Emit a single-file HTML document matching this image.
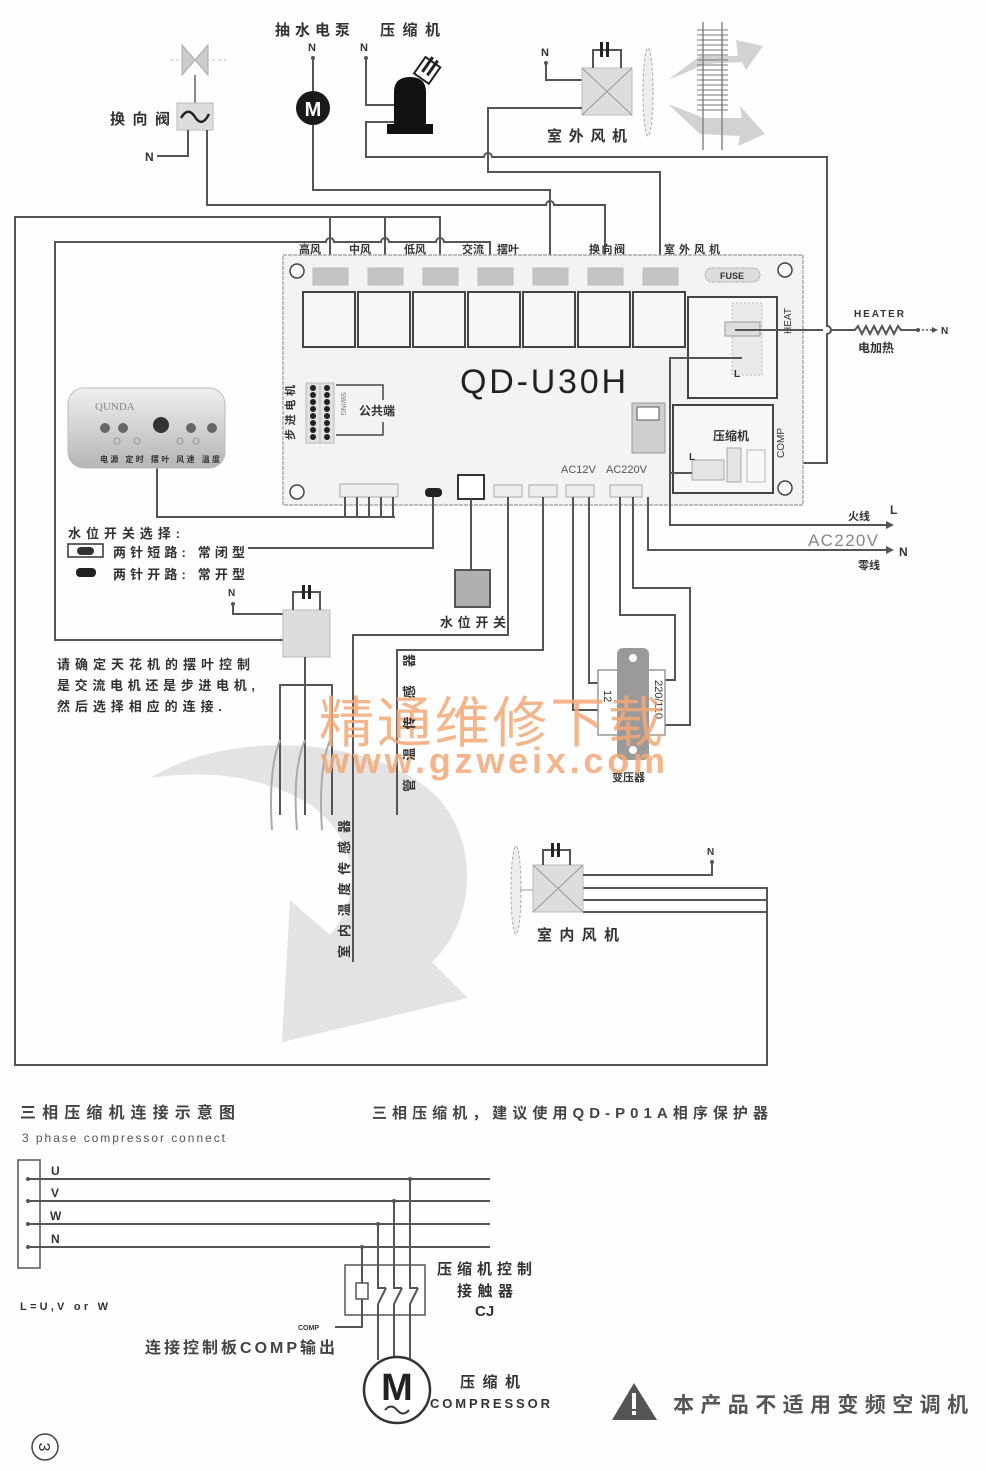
<!DOCTYPE html>
<html><head><meta charset="utf-8"><style>
html,body{margin:0;padding:0;background:#fff}
svg{display:block}
text{font-family:"Liberation Sans","Noto Sans CJK SC",sans-serif;fill:#333}
.w{fill:none;stroke:#555;stroke-width:2}
.t{stroke:#444;stroke-width:1}
</style></head><body>
<svg width="985" height="1471" viewBox="0 0 985 1471" xmlns="http://www.w3.org/2000/svg">
<rect width="985" height="1471" fill="#fefefe"/>

<!-- watermark swoosh -->
<path d="M150,778 C230,728 380,735 440,800 C482,850 472,925 432,962 L468,998 L282,1042 L290,900 L330,935 C362,898 360,842 312,806 C262,774 205,770 150,778 Z" fill="#e3e3e3"/>

<!-- ===== TOP COMPONENTS ===== -->
<!-- reversing valve -->
<line x1="170" y1="60" x2="226" y2="60" stroke="#bbb" stroke-width="1" stroke-dasharray="3,3"/>
<polygon points="182,45 195,60 182,75" fill="#ccc" stroke="#aaa"/>
<polygon points="208,45 195,60 208,75" fill="#ccc" stroke="#aaa"/>
<line x1="195" y1="75" x2="195" y2="103" stroke="#888" stroke-width="2"/>
<rect x="177" y="103" width="36" height="27" fill="#ddd" stroke="#bbb"/>
<path d="M181,118 Q188,106 195,117 Q202,128 209,114" fill="none" stroke="#222" stroke-width="2.5"/>
<text x="110" y="124" font-size="15" font-weight="bold" textLength="60">换向阀</text>
<text x="145" y="161" font-size="12" font-weight="bold">N</text>
<path class="w" d="M157,156 L188,156 L188,130"/>

<!-- pump -->
<text x="275" y="35" font-size="15" font-weight="bold" textLength="75">抽水电泵</text>
<text x="308" y="51" font-size="11" font-weight="bold">N</text>
<circle cx="313" cy="58" r="2" fill="#555"/>
<line class="w" x1="313" y1="58" x2="313" y2="92"/>
<circle cx="313" cy="108" r="17" fill="#1a1a1a"/>
<text x="313" y="116" font-size="20" font-weight="bold" text-anchor="middle" style="fill:#fff">M</text>
<path class="w" d="M313,125 L313,190 L550,190 L550,268"/>

<!-- compressor -->
<text x="380" y="35" font-size="15" font-weight="bold" textLength="60">压缩机</text>
<text x="360" y="51" font-size="11" font-weight="bold">N</text>
<circle cx="366" cy="58" r="2" fill="#555"/>
<path class="w" d="M366,58 L366,105 L394,105"/>
<path d="M394,128 L394,92 Q394,77 410,77 Q426,77 426,92 L426,128 Z" fill="#111"/>
<rect x="387" y="124" width="46" height="10" fill="#111"/>
<g transform="translate(426,72) rotate(35)">
<rect x="-9" y="-12" width="18" height="20" fill="#fff" stroke="#222" stroke-width="2"/>
<line x1="-3" y1="-16" x2="-3" y2="2" stroke="#222" stroke-width="3"/>
<line x1="3" y1="-16" x2="3" y2="2" stroke="#222" stroke-width="3"/>
</g>
<path class="w" d="M394,122 L366,122 L366,157 L484,157 A4,4 0 0 1 492,157 L827,157 L827,326 A4,4 0 0 1 827,334 L827,463 L743,463"/>

<!-- outdoor fan -->
<text x="541" y="56" font-size="11" font-weight="bold">N</text>
<circle cx="546" cy="63" r="2" fill="#555"/>
<path class="w" d="M546,63 L546,80 L582,80"/>
<rect x="582" y="68" width="50" height="47" fill="#ddd" stroke="#bbb"/>
<line x1="582" y1="68" x2="632" y2="115" stroke="#999"/>
<line x1="632" y1="68" x2="582" y2="115" stroke="#999"/>
<path class="w" d="M593,68 L593,50 L621,50 L621,68"/>
<rect x="600" y="42" width="3" height="15" fill="#222"/><rect x="606" y="42" width="3" height="15" fill="#222"/>
<path class="w" d="M582,108 L488,108 L488,172 L660,172 L660,268"/>
<ellipse cx="648" cy="92" rx="5" ry="44" fill="#eee" stroke="#aaa" stroke-dasharray="3,2"/>
<text x="547" y="141" font-size="15" font-weight="bold" textLength="80">室外风机</text>
<!-- heat exchanger + arrows -->
<path d="M668,80 L700,56 L738,56 L736,40 L763,46 L746,70 L742,62 L706,64 Z" fill="#d2d2d2"/>
<path d="M668,104 L704,118 L742,118 L740,106 L765,134 L738,146 L740,136 L700,134 Z" fill="#d2d2d2"/>
<line x1="703" y1="22" x2="703" y2="150" stroke="#888" stroke-width="1.5"/>
<line x1="722" y1="22" x2="722" y2="150" stroke="#888" stroke-width="1.5"/>
<g stroke="#777" stroke-width="1">
<line x1="697" y1="30" x2="728" y2="30"/><line x1="697" y1="35" x2="728" y2="35"/><line x1="697" y1="40" x2="728" y2="40"/><line x1="697" y1="45" x2="728" y2="45"/><line x1="697" y1="50" x2="728" y2="50"/><line x1="697" y1="55" x2="728" y2="55"/><line x1="697" y1="60" x2="728" y2="60"/><line x1="697" y1="65" x2="728" y2="65"/><line x1="697" y1="70" x2="728" y2="70"/><line x1="697" y1="75" x2="728" y2="75"/><line x1="697" y1="80" x2="728" y2="80"/><line x1="697" y1="85" x2="728" y2="85"/><line x1="697" y1="90" x2="728" y2="90"/><line x1="697" y1="95" x2="728" y2="95"/><line x1="697" y1="100" x2="728" y2="100"/><line x1="697" y1="105" x2="728" y2="105"/><line x1="697" y1="110" x2="728" y2="110"/>
</g>

<!-- fan speed / swing bus lines -->
<path class="w" d="M330,268 L330,217 L15,217 L15,1065 L767,1065 L767,888 L583,888"/>
<path class="w" d="M385,268 L385,217 L330,217"/>
<path class="w" d="M440,268 L440,217 L385,217"/>
<line class="w" x1="583" y1="900" x2="767" y2="900"/>
<line class="w" x1="583" y1="912" x2="767" y2="912"/>
<path class="w" d="M283,640 L55,640 L55,242 L326,242 A4,4 0 0 1 334,242 L381,242 A4,4 0 0 1 389,242 L436,242 A4,4 0 0 1 444,242 L490,242 L490,268"/>
<path class="w" d="M207,130 L207,205 L546,205 A4,4 0 0 1 554,205 L605,205 L605,268"/>

<!-- ===== BOARD ===== -->
<rect x="283" y="255" width="520" height="250" fill="#f3f3f3" stroke="#aaa" stroke-width="1.5" stroke-dasharray="4,1"/>
<g font-size="11" font-weight="bold">
<text x="299" y="253">高风</text><text x="349" y="253">中风</text><text x="404" y="253">低风</text>
<text x="462" y="253">交流</text><text x="497" y="253">摆叶</text>
<text x="589" y="253" textLength="36">换向阀</text><text x="664" y="253" textLength="56">室外风机</text>
</g>
<g fill="#c4c4c4" stroke="#bbb">
<rect x="313" y="268" width="35" height="17"/><rect x="368" y="268" width="35" height="17"/><rect x="423" y="268" width="35" height="17"/><rect x="478" y="268" width="35" height="17"/><rect x="533" y="268" width="35" height="17"/><rect x="588" y="268" width="35" height="17"/><rect x="643" y="268" width="35" height="17"/>
</g>
<g fill="#f7f7f7" stroke="#444" stroke-width="2">
<rect x="303" y="292" width="52" height="55"/><rect x="358" y="292" width="52" height="55"/><rect x="413" y="292" width="52" height="55"/><rect x="468" y="292" width="52" height="55"/><rect x="523" y="292" width="52" height="55"/><rect x="578" y="292" width="52" height="55"/><rect x="633" y="292" width="52" height="55"/>
</g>
<circle cx="297" cy="271" r="7" fill="#fff" stroke="#444" stroke-width="1.5"/>
<circle cx="297" cy="492" r="7" fill="#fff" stroke="#444" stroke-width="1.5"/>
<circle cx="785" cy="270" r="7" fill="#fff" stroke="#444" stroke-width="1.5"/>
<circle cx="785" cy="488" r="7" fill="#fff" stroke="#444" stroke-width="1.5"/>
<rect x="705" y="268" width="55" height="14" rx="7" fill="#ddd" stroke="#aaa" stroke-dasharray="2,1"/>
<text x="732" y="279" font-size="9" font-weight="bold" text-anchor="middle">FUSE</text>
<text x="460" y="393" font-size="34" textLength="166" style="fill:#222">QD-U30H</text>
<!-- heat relay -->
<rect x="688" y="297" width="89" height="101" fill="#f7f7f7" stroke="#444" stroke-width="2"/>
<rect x="732" y="303" width="30" height="72" fill="#eaeaea" stroke="#bbb" stroke-dasharray="2,2"/>
<rect x="725" y="322" width="35" height="14" fill="#ddd" stroke="#999"/>
<text x="734" y="377" font-size="10" font-weight="bold">L</text>
<text transform="translate(791,334) rotate(-90)" font-size="10">HEAT</text>
<!-- comp relay -->
<rect x="673" y="405" width="100" height="88" fill="#f7f7f7" stroke="#444" stroke-width="2"/>
<text x="713" y="440" font-size="12" font-weight="bold">压缩机</text>
<text transform="translate(784,458) rotate(-90)" font-size="10">COMP</text>
<rect x="692" y="460" width="32" height="20" fill="#e4e4e4" stroke="#aaa"/>
<rect x="727" y="448" width="14" height="34" fill="#e4e4e4" stroke="#aaa"/>
<rect x="747" y="450" width="18" height="32" fill="#f7f7f7" stroke="#bbb"/>
<text x="689" y="460" font-size="10" font-weight="bold">L</text>
<!-- chip -->
<rect x="632" y="403" width="33" height="50" fill="#cfcfcf" stroke="#999"/>
<rect x="637" y="407" width="22" height="13" fill="#fff" stroke="#555"/>
<!-- swing connector -->
<text transform="translate(294,440) rotate(-90)" font-size="11" font-weight="bold" textLength="55">步进电机</text>
<rect x="306" y="383" width="14" height="60" fill="#e0e0e0" stroke="#bbb"/>
<rect x="320" y="383" width="14" height="60" fill="#e0e0e0" stroke="#bbb"/>
<g fill="#222">
<circle cx="313" cy="388" r="3"/><circle cx="313" cy="395" r="3"/><circle cx="313" cy="402" r="3"/><circle cx="313" cy="409" r="3"/><circle cx="313" cy="416" r="3"/><circle cx="313" cy="423" r="3"/><circle cx="313" cy="430" r="3"/><circle cx="313" cy="437" r="3"/>
<circle cx="327" cy="388" r="3"/><circle cx="327" cy="395" r="3"/><circle cx="327" cy="402" r="3"/><circle cx="327" cy="409" r="3"/><circle cx="327" cy="416" r="3"/><circle cx="327" cy="423" r="3"/><circle cx="327" cy="430" r="3"/><circle cx="327" cy="437" r="3"/>
</g>
<text transform="translate(341,392) rotate(90)" font-size="7" style="fill:#777">SWING</text>
<path d="M336,385 L383,385 L383,400 M383,422 L383,435 L336,435" fill="none" stroke="#444" stroke-width="1.5"/>
<text x="359" y="415" font-size="12" font-weight="bold">公共端</text>
<!-- bottom connectors -->
<rect x="340" y="484" width="58" height="13" fill="#eee" stroke="#aaa"/>
<rect x="425" y="488" width="17" height="9" rx="4" fill="#222"/>
<rect x="458" y="475" width="26" height="24" fill="#fff" stroke="#333" stroke-width="2"/>
<rect x="494" y="485" width="28" height="12" fill="#eee" stroke="#aaa"/>
<rect x="529" y="485" width="28" height="12" fill="#eee" stroke="#aaa"/>
<rect x="566" y="485" width="28" height="12" fill="#eee" stroke="#aaa"/>
<rect x="610" y="485" width="32" height="12" fill="#eee" stroke="#aaa"/>
<text x="561" y="473" font-size="11" style="fill:#555">AC12V</text>
<text x="606" y="473" font-size="11" style="fill:#555">AC220V</text>

<!-- board bottom wires -->
<path class="w" d="M157,468 L157,517 L395,517"/>
<g class="w"><line x1="345" y1="497" x2="345" y2="517"/><line x1="357" y1="497" x2="357" y2="517"/><line x1="369" y1="497" x2="369" y2="517"/><line x1="381" y1="497" x2="381" y2="517"/><line x1="393" y1="497" x2="393" y2="517"/></g>
<path class="w" d="M433,497 L433,548 L248,548"/>
<path class="w" d="M471,499 L471,570"/>
<rect x="455" y="570" width="35" height="37" fill="#b0b0b0" stroke="#555" stroke-width="2"/>
<text x="440" y="627" font-size="13" font-weight="bold" textLength="66">水位开关</text>
<path class="w" d="M508,497 L508,635 L353,635 L353,962"/>
<path class="w" d="M543,497 L543,650 L397,650 L397,815"/>
<path class="w" d="M573,497 L573,710 L600,710"/>
<path class="w" d="M589,497 L589,683 L600,683"/>
<path class="w" d="M620,497 L620,615 L675,615 L675,680 L665,680"/>
<path class="w" d="M633,497 L633,588 L690,588 L690,725 L665,725"/>
<path class="w" d="M648,497 L648,550 L888,550"/>
<polygon points="886,546 894,550 886,554" fill="#555"/>
<path class="w" d="M742,358 L670,358 L670,525 L888,525"/>
<polygon points="886,521 894,525 886,529" fill="#555"/>
<line class="w" x1="670" y1="473" x2="692" y2="473"/>
<text x="848" y="520" font-size="11" font-weight="bold">火线</text>
<text x="890" y="514" font-size="12" font-weight="bold">L</text>
<text x="808" y="546" font-size="17" textLength="70" style="fill:#888">AC220V</text>
<text x="858" y="569" font-size="11" font-weight="bold">零线</text>
<text x="899" y="556" font-size="12" font-weight="bold">N</text>
<!-- heater -->
<path class="w" d="M735,330 L823,330 M831,330 L855,330 l3,-4 l4,8 l4,-8 l4,8 l4,-8 l4,8 l4,-8 l4,8 l4,-8 l4,8 l4,-8 l3,4 L918,330"/>
<line x1="918" y1="330" x2="934" y2="330" stroke="#555" stroke-width="1.5" stroke-dasharray="2,2"/>
<polygon points="932,327 938,330 932,333" fill="#555"/>
<circle cx="918" cy="330" r="2" fill="#555"/>
<text x="941" y="334" font-size="10" font-weight="bold">N</text>
<text x="854" y="317" font-size="10" font-weight="bold" textLength="50">HEATER</text>
<text x="858" y="352" font-size="12" font-weight="bold">电加热</text>

<!-- transformer -->
<rect x="598" y="670" width="67" height="65" fill="#fff" stroke="#999" stroke-width="1.5"/>
<rect x="617" y="648" width="32" height="112" rx="6" fill="#9a9a9a"/>
<circle cx="633" cy="658" r="4" fill="#fff"/><circle cx="633" cy="750" r="4" fill="#fff"/>
<text transform="translate(604,690) rotate(90)" font-size="11">12</text>
<text transform="translate(655,680) rotate(90)" font-size="11">220/110</text>
<text x="612" y="781" font-size="11" font-weight="bold">变压器</text>

<!-- display -->
<defs><linearGradient id="g1" x1="0" y1="0" x2="0" y2="1"><stop offset="0" stop-color="#f0f0f0"/><stop offset="1" stop-color="#b5b5b5"/></linearGradient></defs>
<rect x="68" y="388" width="157" height="80" rx="16" fill="url(#g1)" stroke="#bbb"/>
<text x="95" y="410" font-size="11" style="fill:#888;font-family:'Liberation Serif',serif">QUNDA</text>
<circle cx="105" cy="428" r="5" fill="#666"/><circle cx="123" cy="428" r="5" fill="#666"/><circle cx="161" cy="425" r="8" fill="#333"/><circle cx="191" cy="428" r="5" fill="#666"/><circle cx="212" cy="428" r="5" fill="#666"/>
<g fill="none" stroke="#999"><circle cx="117" cy="441" r="3"/><circle cx="137" cy="441" r="3"/><circle cx="180" cy="441" r="3"/><circle cx="196" cy="441" r="3"/></g>
<text x="100" y="462" font-size="8" font-weight="bold" textLength="120" style="fill:#333">电源 定时 摆叶 风速 温度</text>

<!-- left notes -->
<text x="68" y="538" font-size="13" font-weight="bold" textLength="112">水位开关选择:</text>
<rect x="68" y="544" width="35" height="13" fill="#fff" stroke="#333" stroke-width="1.5"/>
<rect x="77" y="547" width="17" height="8" rx="4" fill="#333"/>
<text x="113" y="557" font-size="13" font-weight="bold" textLength="132">两针短路: 常闭型</text>
<rect x="76" y="568" width="20" height="9" rx="4" fill="#222"/>
<text x="113" y="579" font-size="13" font-weight="bold" textLength="132">两针开路: 常开型</text>
<text x="57" y="669" font-size="13" font-weight="bold" textLength="193">请确定天花机的摆叶控制</text>
<text x="57" y="690" font-size="13" font-weight="bold" textLength="198">是交流电机还是步进电机,</text>
<text x="57" y="711" font-size="13" font-weight="bold" textLength="165">然后选择相应的连接.</text>

<!-- swing motor -->
<text x="228" y="596" font-size="10" font-weight="bold">N</text>
<circle cx="233" cy="604" r="2" fill="#555"/>
<path class="w" d="M233,604 L233,614 L283,614"/>
<rect x="283" y="610" width="47" height="47" fill="#ddd" stroke="#bbb"/>
<path class="w" d="M293,610 L293,592 L320,592 L320,610"/>
<rect x="302" y="585" width="3" height="14" fill="#222"/><rect x="308" y="585" width="3" height="14" fill="#222"/>
<line class="w" x1="305" y1="657" x2="305" y2="815"/>
<path class="w" d="M280,815 L280,685 L332,685 L332,815"/>
<g fill="none" stroke="#aaa" stroke-width="2">
<path d="M280,740 Q268,770 272,830"/><path d="M305,740 Q292,770 297,830"/><path d="M330,740 Q318,770 322,830"/>
</g>

<!-- watermark text -->
<text x="319" y="742" font-size="55" textLength="344" style="fill:#f3a978;font-family:'Noto Sans CJK SC','Liberation Sans',sans-serif" opacity="0.85">精通维修下载</text>
<text x="321" y="773" font-size="36" font-weight="bold" textLength="344" style="fill:#f3a978" opacity="0.85">www.gzweix.com</text>

<!-- sensors text -->
<text transform="translate(349,958) rotate(-90)" font-size="13" font-weight="bold" textLength="138">室内温度传感器</text>
<text transform="translate(414,792) rotate(-90)" font-size="13" font-weight="bold" textLength="138">管温传感器</text>

<!-- indoor fan -->
<ellipse cx="516" cy="890" rx="5" ry="44" fill="#eee" stroke="#aaa" stroke-dasharray="3,2"/>
<line x1="520" y1="890" x2="533" y2="890" stroke="#999"/>
<rect x="533" y="865" width="50" height="47" fill="#ddd" stroke="#bbb"/>
<line x1="533" y1="865" x2="583" y2="912" stroke="#999"/>
<line x1="583" y1="865" x2="533" y2="912" stroke="#999"/>
<path class="w" d="M543,865 L543,850 L570,850 L570,865"/>
<rect x="551" y="843" width="3" height="14" fill="#222"/><rect x="557" y="843" width="3" height="14" fill="#222"/>
<path class="w" d="M583,875 L712,875 L712,862"/>
<circle cx="712" cy="862" r="2" fill="#555"/>
<text x="707" y="855" font-size="10" font-weight="bold">N</text>
<text x="537" y="940" font-size="15" font-weight="bold" textLength="82">室内风机</text>

<!-- ===== THREE PHASE ===== -->
<text x="20" y="1118" font-size="16" font-weight="bold" textLength="215" style="fill:#444">三相压缩机连接示意图</text>
<text x="372" y="1118" font-size="15" font-weight="bold" textLength="396" style="fill:#444">三相压缩机，建议使用QD-P01A相序保护器</text>
<text x="22" y="1142" font-size="12" textLength="203" style="fill:#555">3 phase compressor connect</text>
<rect x="18" y="1160" width="22" height="108" fill="#fff" stroke="#555" stroke-width="1.5"/>
<g class="w"><line x1="27" y1="1179" x2="490" y2="1179"/><line x1="27" y1="1201" x2="490" y2="1201"/><line x1="27" y1="1224" x2="490" y2="1224"/><line x1="27" y1="1247" x2="490" y2="1247"/></g>
<g fill="#555"><circle cx="28" cy="1179" r="2"/><circle cx="28" cy="1201" r="2"/><circle cx="28" cy="1224" r="2"/><circle cx="28" cy="1247" r="2"/>
<circle cx="410" cy="1179" r="2"/><circle cx="394" cy="1201" r="2"/><circle cx="378" cy="1224" r="2"/><circle cx="362" cy="1247" r="2"/></g>
<g font-size="12" font-weight="bold"><text x="51" y="1175">U</text><text x="51" y="1197">V</text><text x="50" y="1220">W</text><text x="51" y="1243">N</text></g>
<rect x="345" y="1265" width="80" height="50" fill="#fff" stroke="#555" stroke-width="1.5"/>
<path class="w" d="M362,1247 L362,1283 M362,1299 L362,1327 L335,1327"/>
<rect x="356" y="1283" width="12" height="16" fill="#fff" stroke="#555" stroke-width="1.5"/>
<path class="w" d="M378,1224 L378,1288 L386,1288 M378,1304 L386,1288 M378,1304 L378,1360"/>
<path class="w" d="M394,1201 L394,1288 L402,1288 M394,1304 L402,1288 M394,1304 L394,1357"/>
<path class="w" d="M410,1179 L410,1288 L418,1288 M410,1304 L418,1288 M410,1304 L410,1360"/>
<text x="298" y="1330" font-size="7" font-weight="bold">COMP</text>
<text x="145" y="1353" font-size="16" font-weight="bold" textLength="190" style="fill:#444">连接控制板COMP输出</text>
<text x="437" y="1274" font-size="15" font-weight="bold" textLength="95">压缩机控制</text>
<text x="457" y="1296" font-size="15" font-weight="bold" textLength="56">接触器</text>
<text x="475" y="1316" font-size="15" font-weight="bold">CJ</text>
<text x="20" y="1310" font-size="11" font-weight="bold" textLength="88">L=U,V or W</text>
<circle cx="397" cy="1390" r="33" fill="#fff" stroke="#333" stroke-width="2.5"/>
<text x="397" y="1400" font-size="38" font-weight="bold" text-anchor="middle" style="fill:#222">M</text>
<path d="M385,1410 Q391,1403 397,1410 Q403,1417 409,1410" fill="none" stroke="#333" stroke-width="2"/>
<text x="460" y="1387" font-size="15" font-weight="bold" textLength="60">压缩机</text>
<text x="430" y="1408" font-size="13" font-weight="bold" textLength="120">COMPRESSOR</text>
<circle cx="45" cy="1447" r="13" fill="#fff" stroke="#444" stroke-width="1.5"/>
<text x="45" y="1453" font-size="16" text-anchor="middle" transform="rotate(90,45,1447)">3</text>
<!-- warning -->
<polygon points="634,1383 612,1420 657,1420" fill="#555"/>
<rect x="632" y="1393" width="4" height="16" fill="#fff"/>
<rect x="632" y="1411" width="4" height="4" fill="#fff"/>
<text x="673" y="1412" font-size="21" font-weight="bold" textLength="295" style="fill:#555">本产品不适用变频空调机</text>
</svg>
</body></html>
